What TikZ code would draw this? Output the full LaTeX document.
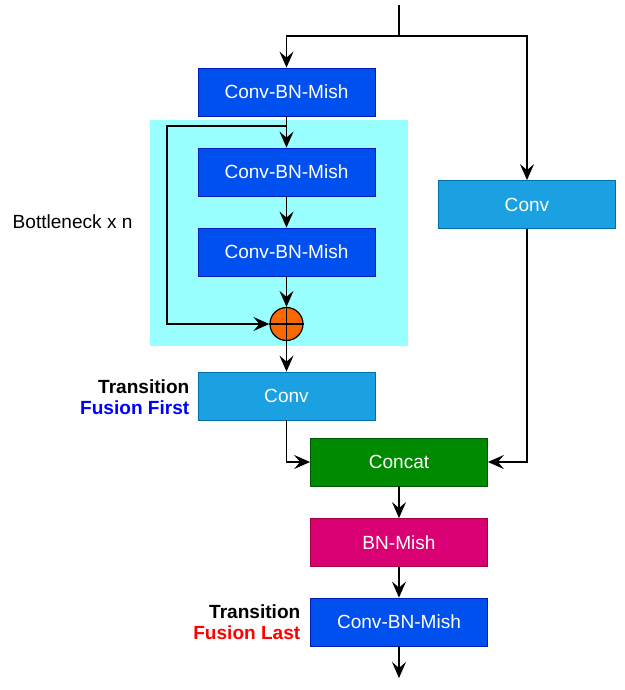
\documentclass[tikz,border=0pt]{standalone}
\usepackage{fontspec}
\setmainfont{Liberation Sans}
\usetikzlibrary{arrows.meta}
\definecolor{cbm}{HTML}{0050EF}
\definecolor{cbmline}{HTML}{001DBC}
\definecolor{conv}{HTML}{1BA1E2}
\definecolor{convline}{HTML}{006EAF}
\definecolor{cat}{HTML}{008A00}
\definecolor{catline}{HTML}{005700}
\definecolor{bnm}{HTML}{D80073}
\definecolor{bnmline}{HTML}{A50040}
\definecolor{bneck}{HTML}{99FFFF}
\definecolor{add}{HTML}{FA6800}
\definecolor{fusefirst}{RGB}{0,0,255}
\definecolor{fuselast}{RGB}{255,0,0}

\begin{document}
\begin{tikzpicture}[x=0.75pt, y=-0.75pt, every node/.style={font=\fontsize{14.3}{16}\selectfont},
	blk/.style={draw, line width=0.6pt, minimum width=132.75pt, minimum height=36pt, inner sep=0pt, text=white},
	arr/.style={-{Stealth[length=12pt, width=10.5pt, inset=4.5pt]}, line width=1.1pt}]
			\useasboundingbox (0,0) rectangle (625,690);
			\fill[bneck] (150,120) rectangle (408,346);
			\node[blk, fill=cbm, draw=cbmline] (cbm1) at (286.5,92) {Conv-BN-Mish};
			\node[blk, fill=cbm, draw=cbmline] (cbm2) at (286.5,172) {Conv-BN-Mish};
			\node[blk, fill=cbm, draw=cbmline] (cbm3) at (286.5,252) {Conv-BN-Mish};
			\node[circle, draw=black, fill=add, line width=0.9pt, minimum size=24.75pt, inner sep=0pt] (add) at (286.5,324) {};
			\draw[line width=0.9pt] (add.north) -- (add.south) (add.west) -- (add.east);
			\node[blk, fill=conv, draw=convline] (conv1) at (286.5,396) {Conv};
			\node[blk, fill=conv, draw=convline] (conv2) at (527,204.5) {Conv};
			\node[blk, fill=cat, draw=catline] (concat) at (399,462) {Concat};
			\node[blk, fill=bnm, draw=bnmline] (bnmish) at (399,542.5) {BN-Mish};
			\node[blk, fill=cbm, draw=cbmline] (cbm4) at (399,622) {Conv-BN-Mish};
			\node[anchor=west] (bnlabel) at (8,222) {Bottleneck x n};
			\node[anchor=east, align=right, font=\fontsize{14.3}{16}\bfseries] (tfirst) at (194,397) {Transition\\\textcolor{fusefirst}{Fusion First}};
			\node[anchor=east, align=right, font=\fontsize{14.3}{16}\bfseries] (tlast) at (305,622) {Transition\\\textcolor{fuselast}{Fusion Last}};
			\coordinate (in) at (399,5);
			\coordinate (split) at (399,36);
			\coordinate (tap) at (286.5,126);
			\coordinate (skip) at (167,126);
			\coordinate (out) at (399,678);
			\draw[line width=1.1pt] (in) -- (split);
			\draw[arr] (split) -| (cbm1.north);
			\draw[arr] (split) -| (conv2.north);
			\draw[arr] (cbm1) -- (cbm2);
			\draw[arr] (cbm2) -- (cbm3);
			\draw[arr] (cbm3) -- (add);
			\draw[arr] (tap) -- (skip) |- (add);
			\draw[arr] (add) -- (conv1);
			\draw[arr] (conv1) |- (concat);
			\draw[arr] (conv2) |- (concat);
			\draw[arr] (concat) -- (bnmish);
			\draw[arr] (bnmish) -- (cbm4);
			\draw[arr] (cbm4) -- (out);
			\end{tikzpicture}
\end{document}
